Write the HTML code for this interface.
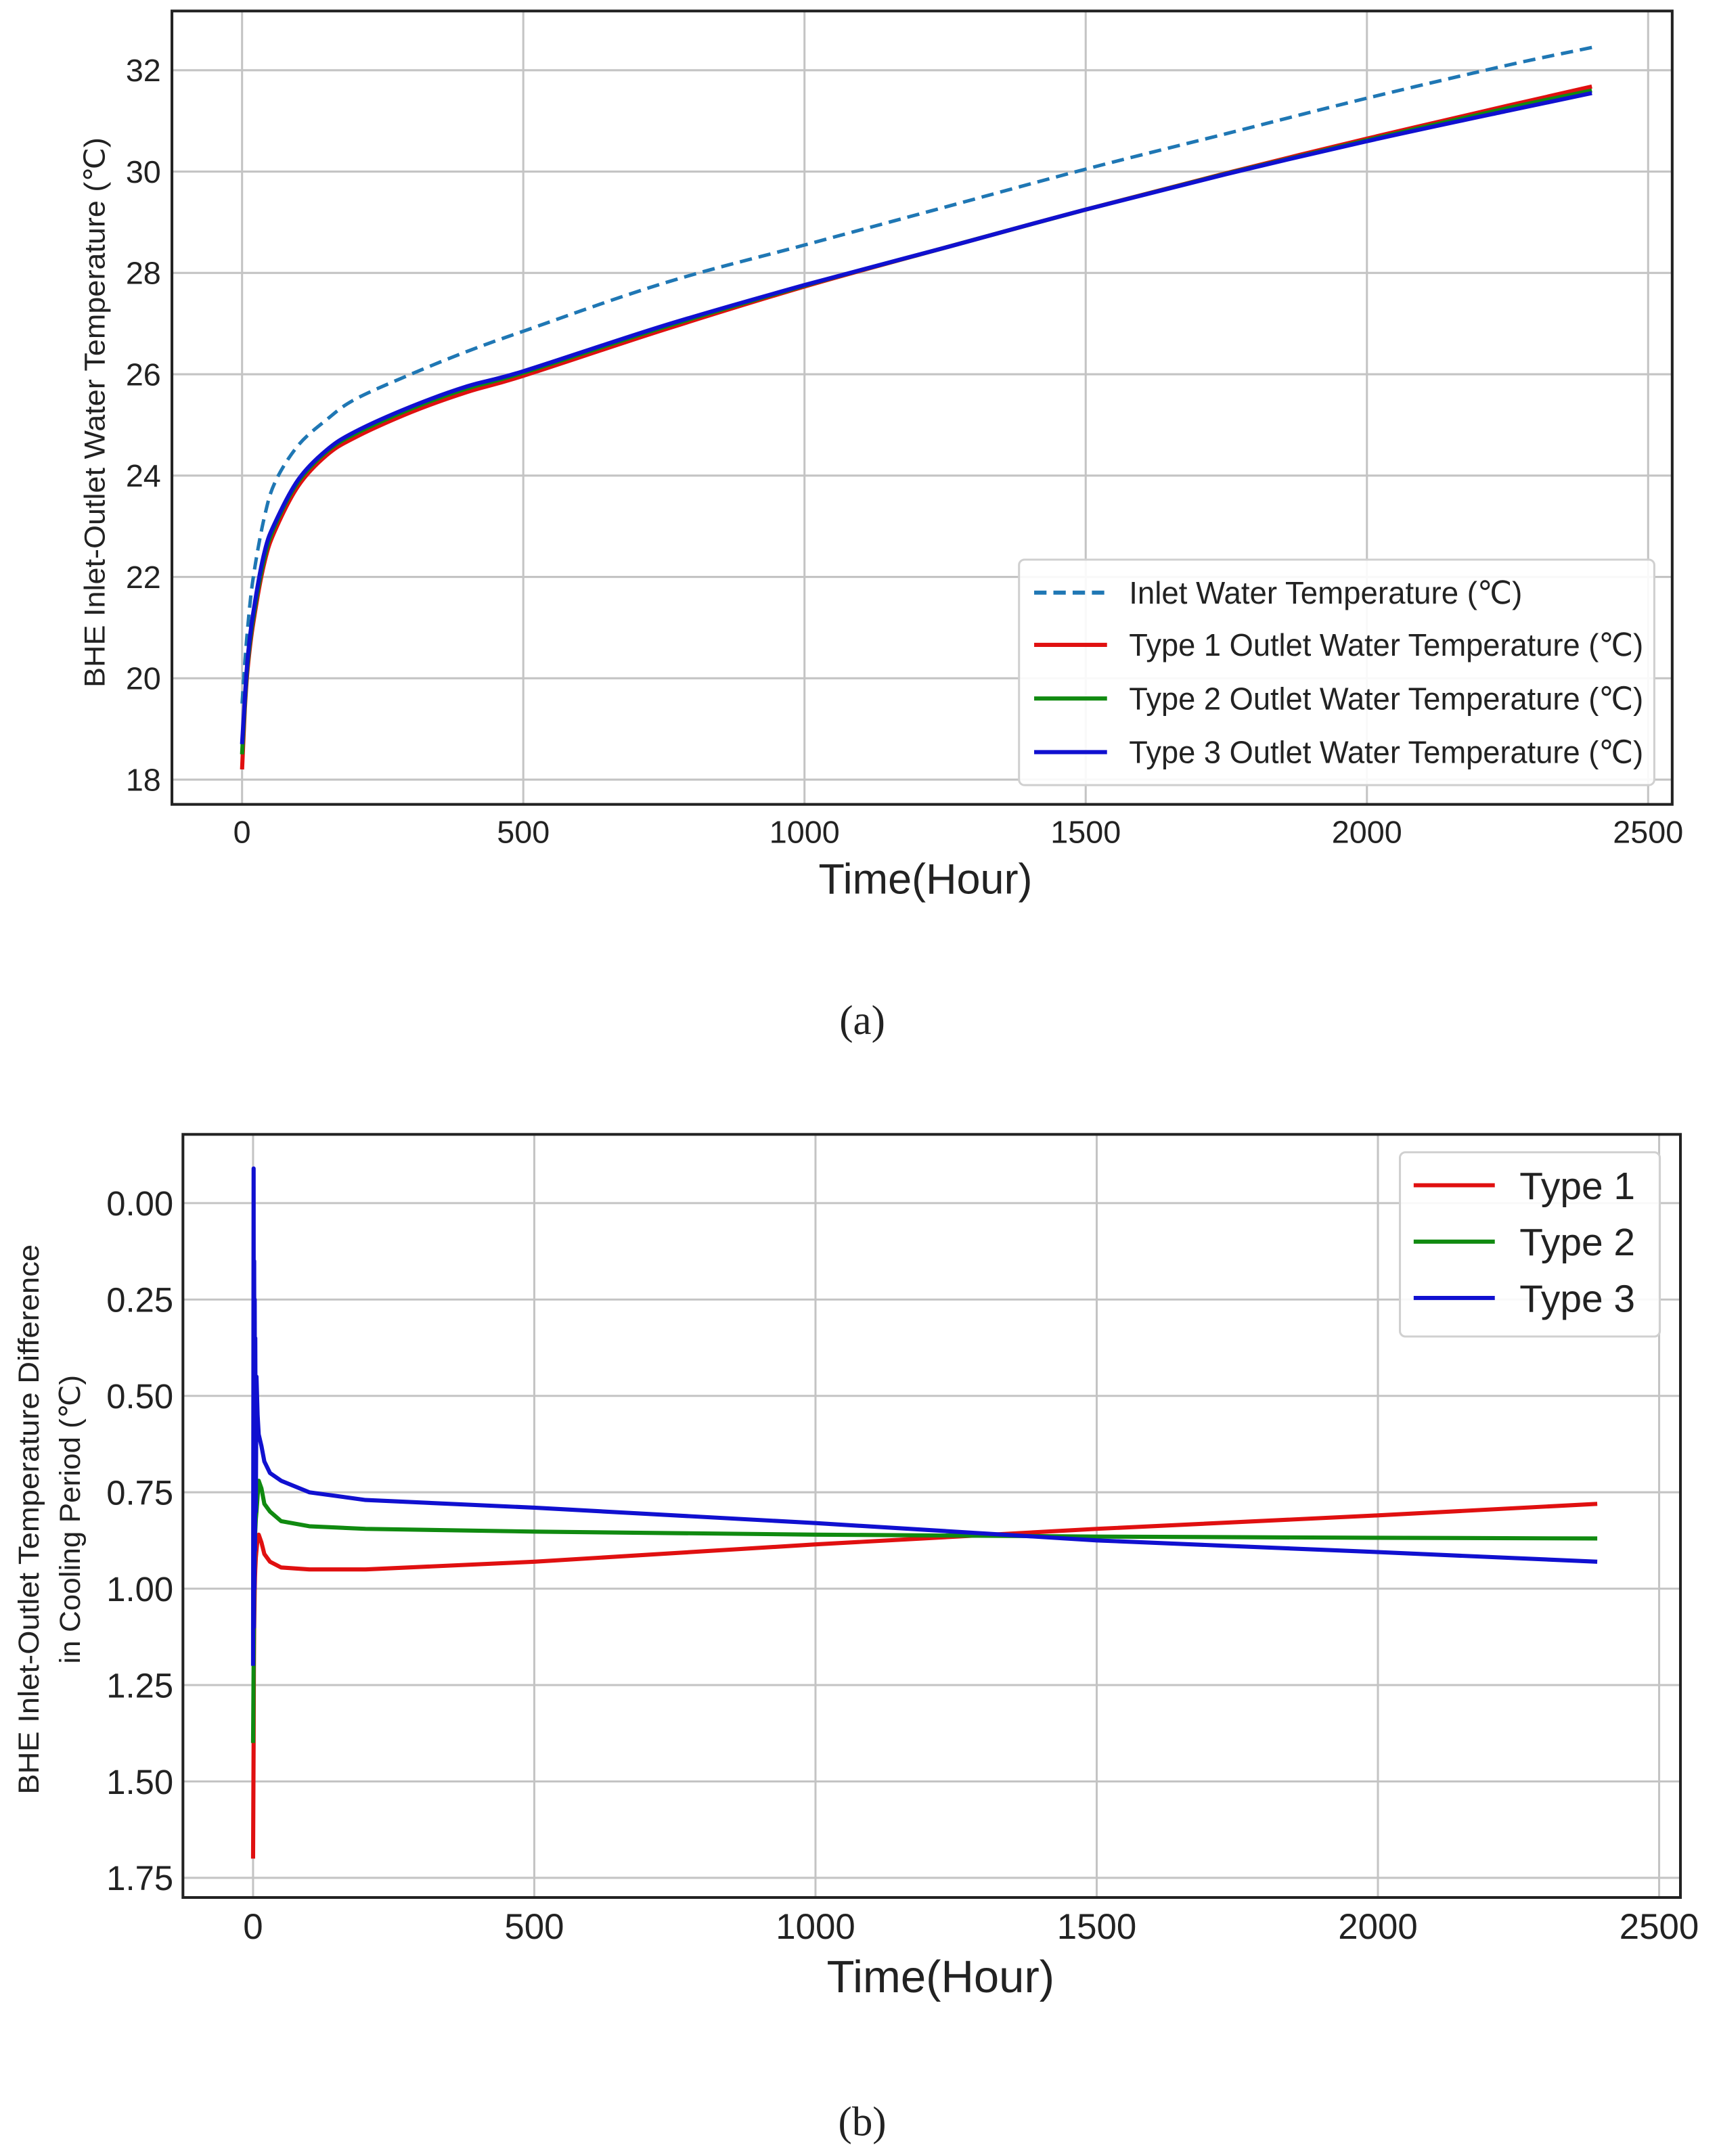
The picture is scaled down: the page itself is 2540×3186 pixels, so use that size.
<!DOCTYPE html>
<html><head><meta charset="utf-8"><style>
html,body{margin:0;padding:0;background:#fff}
svg{display:block}
text{font-family:"Liberation Sans","DejaVu Sans",sans-serif;fill:#222}
</style></head><body>
<svg id="fig" width="2540" height="3186" viewBox="0 0 1250 1568" xmlns="http://www.w3.org/2000/svg">
<rect width="1250" height="1568" fill="#fff"/>
<g id="chartA"></g>
<g id="chartB"></g>
<text x="627" y="752" text-anchor="middle" font-size="30" style="font-family:'Liberation Serif',serif">(a)</text>
<text x="627" y="1553" text-anchor="middle" font-size="30" style="font-family:'Liberation Serif',serif">(b)</text>
</svg>
<script>
// Chart A data
const hoursA=[0,5,10,20,40,60,100,150,200,300,400,500,750,1000,1250,1500,1750,2000,2250,2400];
const inletA=[19.5,20.3,21.0,22.0,23.2,23.9,24.6,25.1,25.5,26.0,26.45,26.85,27.8,28.55,29.3,30.05,30.75,31.45,32.1,32.45];
const type1A=[18.2,19.4,20.2,21.1,22.3,22.95,23.8,24.4,24.75,25.25,25.65,25.97,26.88,27.73,28.5,29.25,29.97,30.65,31.3,31.68];
const type2A=[18.5,19.5,20.3,21.2,22.4,23.05,23.88,24.47,24.82,25.32,25.72,26.03,26.93,27.75,28.5,29.25,29.96,30.62,31.25,31.6];
const type3A=[18.7,19.6,20.4,21.3,22.5,23.1,23.92,24.5,24.86,25.36,25.76,26.06,26.96,27.76,28.5,29.25,29.95,30.6,31.2,31.55];
const xTicksA=[0,500,1000,1500,2000,2500];
const yTicksA=[18,20,22,24,26,28,30,32];
// Chart B data
const hoursB=[0,1,1.5,2,2.5,3,3.5,4,5,6,8,10,15,20,30,50,100,200,500,1000,1500,2000,2390];
const type1B=[1.7,1.4,1.2,1.1,1.05,1.0,0.97,0.95,0.92,0.9,0.87,0.86,0.88,0.91,0.93,0.945,0.95,0.95,0.93,0.885,0.845,0.81,0.78];
const type2B=[1.4,1.2,1.1,1.0,0.95,0.9,0.87,0.85,0.82,0.8,0.76,0.72,0.74,0.78,0.8,0.825,0.838,0.845,0.852,0.86,0.865,0.868,0.87];
const type3B=[1.2,-0.09,1.1,0.15,1.0,0.25,0.9,0.35,0.8,0.45,0.55,0.6,0.63,0.67,0.7,0.72,0.75,0.77,0.79,0.83,0.875,0.905,0.93];
const xTicksB=[0,500,1000,1500,2000,2500];
const yTicksB=[0,0.25,0.5,0.75,1.0,1.25,1.5,1.75];
const yTickLabelsB=["0.00","0.25","0.50","0.75","1.00","1.25","1.50","1.75"];

const NS="http://www.w3.org/2000/svg";
function mk(parent,tag,attrs,txt){const e=document.createElementNS(NS,tag);for(const k in attrs)e.setAttribute(k,attrs[k]);if(txt!==undefined)e.textContent=txt;parent.appendChild(e);return e;}
function smoothPath(pts){
 let d='M'+pts[0][0].toFixed(1)+','+pts[0][1].toFixed(1);
 for(let i=0;i<pts.length-1;i++){
  const p0=pts[Math.max(0,i-1)],p1=pts[i],p2=pts[i+1],p3=pts[Math.min(pts.length-1,i+2)];
  const c1=[p1[0]+(p2[0]-p0[0])/6,p1[1]+(p2[1]-p0[1])/6];
  const c2=[p2[0]-(p3[0]-p1[0])/6,p2[1]-(p3[1]-p1[1])/6];
  d+='C'+c1[0].toFixed(1)+','+c1[1].toFixed(1)+' '+c2[0].toFixed(1)+','+c2[1].toFixed(1)+' '+p2[0].toFixed(1)+','+p2[1].toFixed(1);
 }
 return d;
}

// ---------- Chart A ----------
(function(){
const g=document.getElementById('chartA');
const L=125,R=1216,T=8,B=585;
const sx=v=>176+(v/500)*204.5;
const sy=v=>567-(v-18)/2*73.7;
mk(g,'rect',{x:L,y:T,width:R-L,height:B-T,fill:'#fff'});
xTicksA.forEach(t=>{
 const l=mk(g,'line',{x1:sx(t),x2:sx(t),y1:T,y2:B,stroke:'#c4c4c4','stroke-width':1.5});
 
 const tx=mk(g,'text',{x:sx(t),y:613,'text-anchor':'middle','font-size':23},String(t));
 
});
yTicksA.forEach(t=>{
 const l=mk(g,'line',{x1:L,x2:R,y1:sy(t),y2:sy(t),stroke:'#c4c4c4','stroke-width':1.5});
 
 const tx=mk(g,'text',{x:117,y:sy(t)+8,'text-anchor':'end','font-size':23},String(t));
 
});
const fr=mk(g,'rect',{x:L,y:T,width:R-L,height:B-T,fill:'none',stroke:'#222','stroke-width':2});

const series=[[inletA,'#1f77b4','inlet-line',true],[type1A,'#e01010','type1-line',false],[type2A,'#108a10','type2-line',false],[type3A,'#1010d0','type3-line',false]];
series.forEach(s=>{
 const pts=hoursA.map((h,i)=>[sx(h),sy(s[0][i])]);
 const p=mk(g,'path',{d:smoothPath(pts),fill:'none',stroke:s[1],'stroke-width':s[3]?2.5:3,'stroke-dasharray':s[3]?'9,5':'none','stroke-linejoin':'round'});
 
});
const xt=mk(g,'text',{x:673,y:650,'text-anchor':'middle','font-size':31},'Time(Hour)');

const yt=mk(g,'text',{x:0,y:0,'text-anchor':'middle','font-size':21,transform:'translate(76,300) rotate(-90)',textLength:400,lengthAdjust:'spacingAndGlyphs'},'BHE Inlet-Outlet Water Temperature (℃)');

const lg=mk(g,'g',{});

mk(lg,'rect',{x:741,y:407,width:462,height:164,rx:4,fill:'#fff','fill-opacity':0.9,stroke:'#d0d0d0','stroke-width':1.5});
const labels=['Inlet Water Temperature (℃)','Type 1 Outlet Water Temperature (℃)','Type 2 Outlet Water Temperature (℃)','Type 3 Outlet Water Temperature (℃)'];
const lens=[286,374,374,374];
[431,469,508,547].forEach((y,i)=>{
 const e=mk(lg,'g',{});
 
 mk(e,'line',{x1:752,x2:805,y1:y,y2:y,stroke:series[i][1],'stroke-width':3,'stroke-dasharray':i==0?'9,5':'none'});
 mk(e,'text',{x:821,y:y+8,'font-size':23,textLength:lens[i],lengthAdjust:'spacingAndGlyphs'},labels[i]);
});
})();

// ---------- Chart B ----------
(function(){
const g=document.getElementById('chartB');
const L=133,R=1222,T=825,B=1380;
const sx=v=>184+(v/500)*204.5;
const sy=v=>875+v/0.25*70.1;
mk(g,'rect',{x:L,y:T,width:R-L,height:B-T,fill:'#fff'});
xTicksB.forEach(t=>{
 const l=mk(g,'line',{x1:sx(t),x2:sx(t),y1:T,y2:B,stroke:'#c4c4c4','stroke-width':1.5});
 
 const tx=mk(g,'text',{x:sx(t),y:1410,'text-anchor':'middle','font-size':26},String(t));
 
});
yTicksB.forEach((t,i)=>{
 const l=mk(g,'line',{x1:L,x2:R,y1:sy(t),y2:sy(t),stroke:'#c4c4c4','stroke-width':1.5});
 
 const tx=mk(g,'text',{x:126,y:sy(t)+9,'text-anchor':'end','font-size':25},yTickLabelsB[i]);
 
});
const fr=mk(g,'rect',{x:L,y:T,width:R-L,height:B-T,fill:'none',stroke:'#222','stroke-width':2});

const series=[[type1B,'#e01010','type1-line'],[type2B,'#108a10','type2-line'],[type3B,'#1010d0','type3-line']];
series.forEach(s=>{
 const d=hoursB.map((h,i)=>(i?'L':'M')+sx(h).toFixed(1)+','+sy(s[0][i]).toFixed(1)).join('');
 const p=mk(g,'path',{d:d,fill:'none',stroke:s[1],'stroke-width':3,'stroke-linejoin':'round'});
 
});
const xt=mk(g,'text',{x:684,y:1449,'text-anchor':'middle','font-size':33},'Time(Hour)');

const yt1=mk(g,'text',{x:0,y:0,'text-anchor':'middle','font-size':21,transform:'translate(28,1105) rotate(-90)',textLength:400,lengthAdjust:'spacingAndGlyphs'},'BHE Inlet-Outlet Temperature Difference');

const yt2=mk(g,'text',{x:0,y:0,'text-anchor':'middle','font-size':21,transform:'translate(58,1105) rotate(-90)',textLength:210,lengthAdjust:'spacingAndGlyphs'},'in Cooling Period (℃)');

const lg=mk(g,'g',{});

mk(lg,'rect',{x:1018,y:838,width:189,height:134,rx:4,fill:'#fff','fill-opacity':0.9,stroke:'#d0d0d0','stroke-width':1.5});
const labels=['Type 1','Type 2','Type 3'];
[862,903,944].forEach((y,i)=>{
 const e=mk(lg,'g',{});
 
 mk(e,'line',{x1:1028,x2:1087,y1:y,y2:y,stroke:series[i][1],'stroke-width':3});
 mk(e,'text',{x:1105,y:y+10,'font-size':28},labels[i]);
});
})();
</script>
</body></html>
